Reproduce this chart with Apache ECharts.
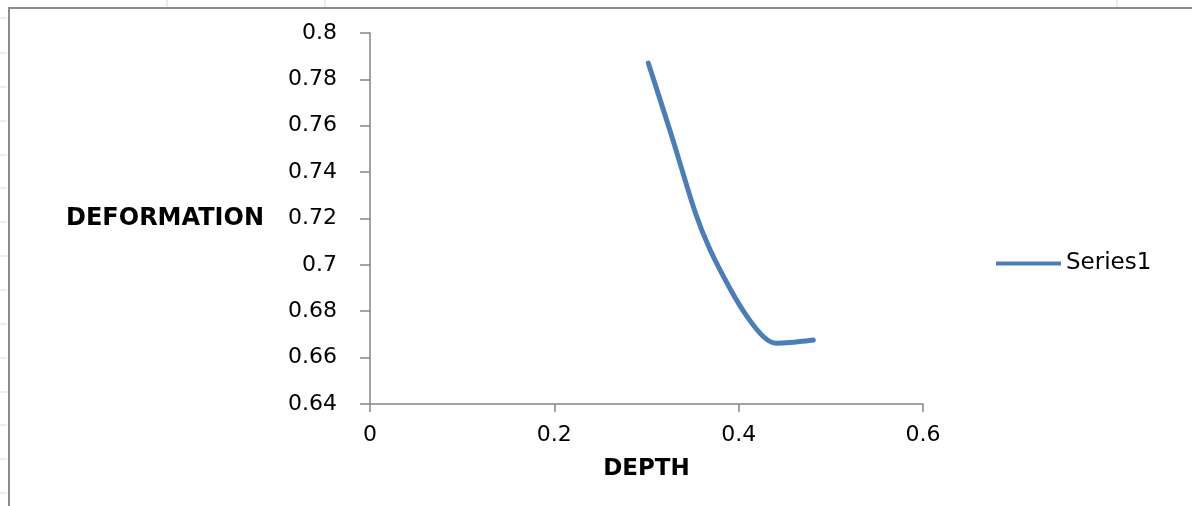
<!DOCTYPE html>
<html>
<head>
<meta charset="utf-8">
<script src="https://cdn.jsdelivr.net/npm/echarts@6/dist/echarts.min.js"></script>
<style>
  html, body { margin: 0; padding: 0; background: #fff; }
  #main { width: 1192px; height: 506px; }
</style>
</head>
<body>
<div id="main"></div>
<script>
// data (points along the drawn curve)
var depth = [0.302, 0.327, 0.353, 0.369, 0.391, 0.409, 0.427, 0.441, 0.456, 0.481];
var deformation = [0.787, 0.756, 0.7225, 0.7065, 0.6895, 0.6778, 0.669, 0.6662, 0.6665, 0.6676];
var seriesName = 'Series1';
var xTicks = { min: 0, max: 0.6, interval: 0.2 };
var yTicks = { min: 0.64, max: 0.8, interval: 0.02 };

var chart = echarts.init(document.getElementById('main'));
var axisGray = '#868686';
var font = 'DejaVu Sans';

// spreadsheet cell lines around the chart frame
var deco = [];
[18, 53, 87, 121, 155, 188, 222, 256, 290, 324, 358, 392, 425, 459, 493].forEach(function (y) {
  deco.push({ type: 'line', shape: { x1: 0, y1: y, x2: 7, y2: y }, style: { stroke: '#d9d9d9', lineWidth: 1 } });
});
[167, 325, 1117].forEach(function (x) {
  deco.push({ type: 'line', shape: { x1: x, y1: 0, x2: x, y2: 7 }, style: { stroke: '#d9d9d9', lineWidth: 1 } });
});
deco.push({ type: 'polyline', shape: { points: [[9, 506], [9, 8], [1192, 8]] }, style: { stroke: '#8c8c8c', fill: null, lineWidth: 2 } });

chart.setOption({
  animation: false,
  backgroundColor: '#fff',
  graphic: deco,
  grid: { left: 370, right: 269, top: 33, bottom: 102 },
  legend: {
    data: [seriesName],
    left: 991,
    top: 247,
    icon: 'path://M0,0 H65 V4 H0 Z',
    itemWidth: 65,
    itemHeight: 4,
    textStyle: { fontFamily: font, fontSize: 23, color: '#000' }
  },
  xAxis: {
    type: 'value',
    min: xTicks.min,
    max: xTicks.max,
    interval: xTicks.interval,
    name: 'DEPTH',
    nameLocation: 'middle',
    nameGap: 54,
    nameTextStyle: { fontFamily: font, fontSize: 23, fontWeight: 'bold', color: '#000' },
    axisLine: { show: true, lineStyle: { color: axisGray, width: 1.5 } },
    axisTick: { show: true, length: 8, lineStyle: { color: axisGray, width: 1.5 } },
    axisLabel: { fontFamily: font, fontSize: 22, color: '#000', margin: 20 },
    splitLine: { show: false }
  },
  yAxis: {
    type: 'value',
    min: yTicks.min,
    max: yTicks.max,
    interval: yTicks.interval,
    name: 'DEFORMATION',
    nameLocation: 'middle',
    nameRotate: 0,
    nameGap: 106,
    nameTextStyle: { fontFamily: font, fontSize: 24, fontWeight: 'bold', color: '#000' },
    axisLine: { show: true, lineStyle: { color: axisGray, width: 1.5 } },
    axisTick: { show: true, length: 10, lineStyle: { color: axisGray, width: 1.5 } },
    axisLabel: { fontFamily: font, fontSize: 22, color: '#000', margin: 33 },
    splitLine: { show: false }
  },
  series: [{
    name: seriesName,
    type: 'line',
    data: depth.map(function (d, i) { return [d, deformation[i]]; }),
    smooth: 0.3,
    symbol: 'none',
    itemStyle: { color: '#4a7ebb' },
    lineStyle: { color: '#4a7ebb', width: 5, cap: 'round', join: 'round' }
  }]
});
</script>
</body>
</html>
